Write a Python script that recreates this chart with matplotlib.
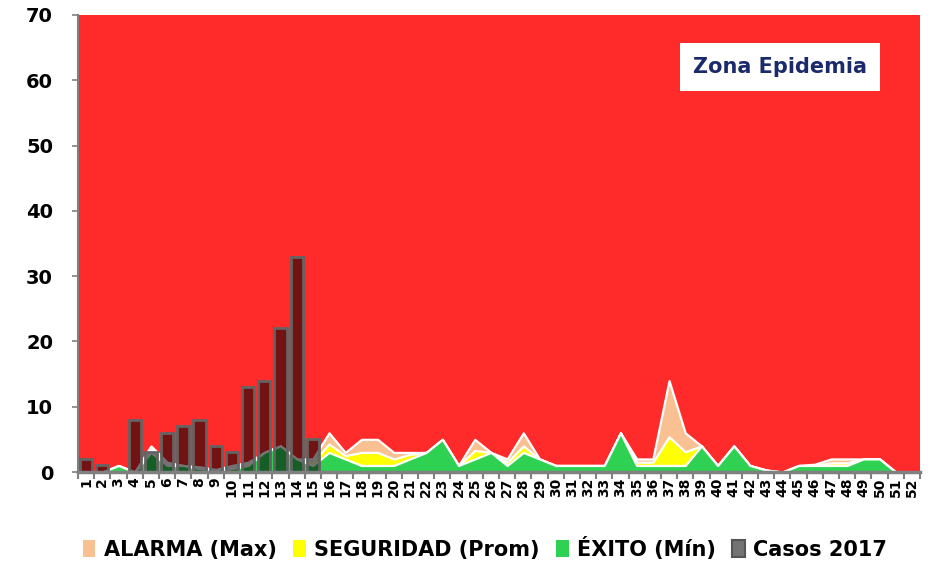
"""Endemic channel chart: alarm / safety / success zones with 2017 weekly cases."""

import matplotlib

matplotlib.use("Agg")
from matplotlib import pyplot as plt
from matplotlib.patches import Patch, Rectangle
import numpy as np

WEEKS = [str(w) for w in range(1, 53)]

# ALARMA (Max)
ALARMA = [0, 0, 1, 0, 4, 1.5, 1, 0.8, 0.4, 1, 1.5, 3, 4, 2, 2, 6, 3, 5, 5, 3,
          3, 3, 5, 1, 5, 3, 2, 6, 2, 1, 1, 1, 1, 6, 2, 2, 14, 6, 4, 1,
          4, 1, 0.3, 0, 1, 1.2, 2, 2, 2, 2, 0, 0]
# SEGURIDAD (Prom)
SEGURIDAD = [0, 0, 1, 0, 3.5, 1.2, 1, 0.6, 0.3, 0.7, 1.3, 3, 4, 2, 1.5, 4.3, 2.5, 3, 3, 2,
             2.7, 3, 5, 1, 3.3, 3, 1.5, 4, 2, 1, 1, 1, 1, 6, 1.5, 1.5, 5.4, 3.1, 4, 1,
             4, 1, 0.3, 0, 1, 1, 1.4, 1.4, 2, 2, 0, 0]
# ÉXITO (Mín)
EXITO = [0, 0, 1, 0, 3, 1, 1, 0.5, 0.3, 0.5, 1, 3, 4, 2, 1, 3, 2, 1, 1, 1,
         2, 3, 5, 1, 2, 3, 1, 3, 2, 1, 1, 1, 1, 6, 1, 1, 1, 1, 4, 1,
         4, 1, 0.3, 0, 1, 1, 1, 1, 2, 2, 0, 0]
# Casos 2017 (only weeks reported so far)
CASOS_2017 = [2, 1, 0, 8, 3, 6, 7, 8, 4, 3, 13, 14, 22, 33, 5]

Y_MAX = 70
RED = "#FF2A2A"
PEACH = "#F9C091"
YELLOW = "#FFFF00"
GREEN = "#2FD152"
GRAY = "#808080"


def main() -> None:
    fig = plt.figure(figsize=(9.38, 5.65), dpi=100)
    ax = fig.add_axes([0.0832, 0.1646, 0.8976, 0.8089])

    x = np.arange(len(WEEKS))
    ax.fill_between([-0.5, len(WEEKS) - 0.5], 0, Y_MAX, color=RED, lw=0, zorder=0)
    for values, color in ((ALARMA, PEACH), (SEGURIDAD, YELLOW), (EXITO, GREEN)):
        ax.fill_between(x, 0, values, facecolor=color, edgecolor="white",
                        linewidth=1.6, zorder=1)

    xc = np.arange(len(CASOS_2017))
    ax.bar(xc, CASOS_2017, width=0.75, color=(0, 0, 0, 0.55),
           edgecolor="#636363", linewidth=2.0, zorder=2)

    ax.set_xlim(-0.5, len(WEEKS) - 0.5)
    ax.set_ylim(0, Y_MAX)
    ax.set_yticks(range(0, Y_MAX + 1, 10))
    ax.set_yticklabels([str(v) for v in range(0, Y_MAX + 1, 10)],
                       fontsize=14, fontweight="bold")
    ax.set_xticks(x)
    ax.set_xticklabels(WEEKS, rotation=90, fontsize=10, fontweight="bold")
    ax.set_xticks(np.arange(-0.5, len(WEEKS)), minor=True)
    ax.tick_params(axis="x", which="major", length=0, pad=4)
    ax.tick_params(axis="x", which="minor", length=5, width=1.5, color=GRAY)
    ax.tick_params(axis="y", length=4, width=1.2, color=GRAY, pad=14)

    for side in ("top", "right"):
        ax.spines[side].set_visible(False)
    ax.spines["left"].set_color(GRAY)
    ax.spines["left"].set_linewidth(1.5)
    ax.spines["bottom"].set_color(GRAY)
    ax.spines["bottom"].set_linewidth(2.5)
    ax.spines["bottom"].set_zorder(3)

    ax.add_patch(Rectangle((0.715, 0.834), 0.2375, 0.105, transform=ax.transAxes,
                           facecolor="white", edgecolor="none", zorder=4))
    ax.text(0.8337, 0.886, "Zona Epidemia", transform=ax.transAxes, ha="center",
            va="center", fontsize=15, fontweight="bold", color="#1B2A6B", zorder=5)

    handles = [
        Patch(facecolor=PEACH, edgecolor="none", label="ALARMA (Max)"),
        Patch(facecolor=YELLOW, edgecolor="none", label="SEGURIDAD (Prom)"),
        Patch(facecolor=GREEN, edgecolor="none", label="ÉXITO (Mín)"),
        Patch(facecolor="#737373", edgecolor="#555555", linewidth=1.5, label="Casos 2017"),
    ]
    fig.legend(handles=handles, loc="center", bbox_to_anchor=(0.517, 0.03),
               ncol=4, frameon=False, handlelength=0.6, handleheight=0.9,
               handletextpad=0.4, columnspacing=0.8,
               prop={"family": "DejaVu Sans", "weight": "bold", "size": 15})

    fig.savefig("out.png", dpi=100)
    plt.close(fig)


if __name__ == "__main__":
    main()
